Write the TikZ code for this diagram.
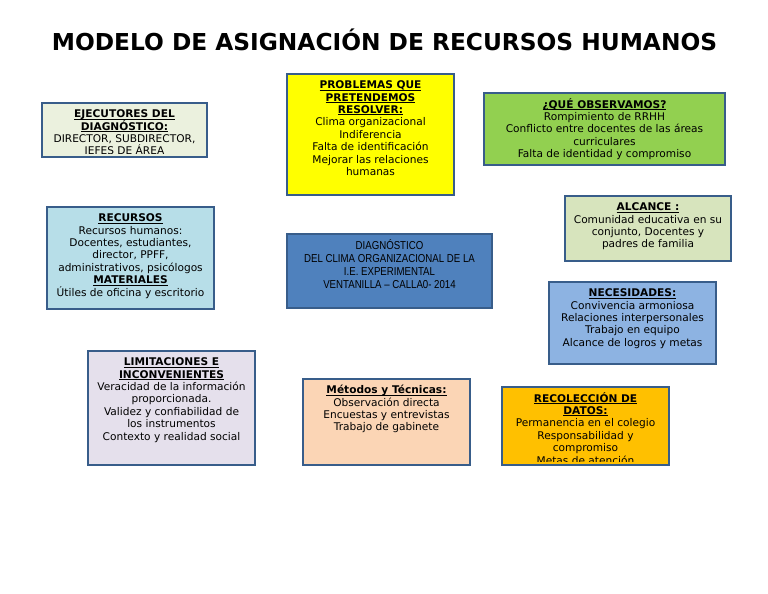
\documentclass[tikz,border=0pt]{standalone}
\usepackage{fontspec}
\setmainfont{DejaVu Sans}
\newfontfamily\narrowfont[FakeStretch=0.84]{Liberation Sans}
\definecolor{bordercol}{HTML}{385D8A}
\definecolor{cEjec}{HTML}{EBF1DE}
\definecolor{cProb}{HTML}{FFFF00}
\definecolor{cObs}{HTML}{92D050}
\definecolor{cAlc}{HTML}{D7E4BD}
\definecolor{cRec}{HTML}{B7DEE8}
\definecolor{cDiag}{HTML}{4F81BD}
\definecolor{cNec}{HTML}{8DB3E2}
\definecolor{cLim}{HTML}{E5E0EC}
\definecolor{cMet}{HTML}{FBD5B5}
\definecolor{cRcl}{HTML}{FFC000}
\newsavebox\hdbox
\newcommand\hd[1]{\leavevmode\sbox\hdbox{\textbf{#1}}\rlap{\rule[-1.6pt]{\wd\hdbox}{0.7pt}}\usebox\hdbox}
\newcommand\fl{\rule{0pt}{9.5pt}}
\tikzset{
  boxtext/.style={anchor=north, align=center, inner sep=0pt, text=black,
    font=\fontsize{10.6}{12.4}\selectfont},
  diagtext/.style={anchor=north, align=center, inner sep=0pt, text=black,
    font=\narrowfont\fontsize{11.5}{13}\selectfont},
  boxborder/.style={draw=bordercol, line width=2pt},
}
% name, x1, y1, x2, y2, fill, text style, text
\newcommand\cbox[8]{%
  \coordinate (#1-nw) at (#2,#3);
  \coordinate (#1-se) at (#4,#5);
  \fill[#6] (#1-nw) rectangle (#1-se);
  \begin{scope}
    \clip (#2,#3) rectangle (#4,#5-4);
    \node[#7] (#1) at ({(#2+#4)/2},#3+5) {\fl#8};
  \end{scope}
  \draw[boxborder] (#1-nw) rectangle (#1-se);
}
\begin{document}
\begin{tikzpicture}[x=1pt,y=-1pt]
\useasboundingbox (0,0) rectangle (768,594);
\fill[white] (0,0) rectangle (768,594);
\node[font=\fontsize{23.3}{28}\selectfont\bfseries, inner sep=0pt] (title) at (384.5,40) {MODELO DE ASIGNACIÓN DE RECURSOS HUMANOS};

\cbox{ejec}{42}{103}{207}{157}{cEjec}{boxtext}{\hd{EJECUTORES DEL}\\ \hd{DIAGNÓSTICO:}\\ DIRECTOR, SUBDIRECTOR,\\ JEFES DE ÁREA}
\cbox{prob}{287}{74}{454}{195}{cProb}{boxtext}{\hd{PROBLEMAS QUE}\\ \hd{PRETENDEMOS}\\ \hd{RESOLVER:}\\ Clima organizacional\\ Indiferencia\\ Falta de identificación\\ Mejorar las relaciones\\ humanas}
\cbox{obs}{484}{93}{725}{165}{cObs}{boxtext}{\hd{¿QUÉ OBSERVAMOS?}\\ Rompimiento de RRHH\\ Conflicto entre docentes de las áreas\\ curriculares\\ Falta de identidad y compromiso}
\cbox{alc}{565}{196}{731}{261}{cAlc}{boxtext}{\hd{ALCANCE :}\\ Comunidad educativa en su\\ conjunto, Docentes y\\ padres de familia}
\cbox{rec}{47}{207}{214}{309}{cRec}{boxtext}{\hd{RECURSOS}\\ Recursos humanos:\\ Docentes, estudiantes,\\ director, PPFF,\\ administrativos, psicólogos\\ \hd{MATERIALES}\\ Útiles de oficina y escritorio}
\cbox{diag}{287}{234}{492}{308}{cDiag}{diagtext}{DIAGNÓSTICO\\ DEL CLIMA ORGANIZACIONAL DE LA\\ I.E. EXPERIMENTAL\\ VENTANILLA – CALLA0- 2014}
\cbox{nec}{549}{282}{716}{364}{cNec}{boxtext}{\hd{NECESIDADES:}\\ Convivencia armoniosa\\ Relaciones interpersonales\\ Trabajo en equipo\\ Alcance de logros y metas}
\cbox{lim}{88}{351}{255}{465}{cLim}{boxtext}{\hd{LIMITACIONES E}\\ \hd{INCONVENIENTES}\\ Veracidad de la información\\ proporcionada.\\ Validez y confiabilidad de\\ los instrumentos\\ Contexto y realidad social}
\cbox{met}{303}{379}{470}{465}{cMet}{boxtext}{\hd{Métodos y Técnicas:}\\ Observación directa\\ Encuestas y entrevistas\\ Trabajo de gabinete}
\cbox{rcl}{502}{387}{669}{465}{cRcl}{boxtext}{\hd{RECOLECCIÓN DE}\\ \hd{DATOS:}\\ Permanencia en el colegio\\ Responsabilidad y\\ compromiso\\ Metas de atención}
\end{tikzpicture}
\end{document}
